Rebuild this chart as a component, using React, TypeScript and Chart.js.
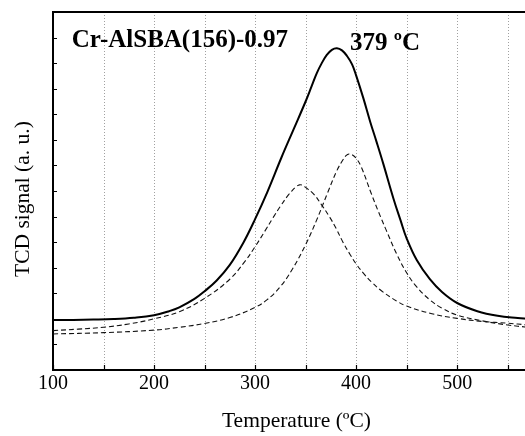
import React, { useEffect, useRef } from 'react';
import { Chart, registerables } from 'chart.js';

Chart.register(...registerables);

// ---- Data ----
const totalTemps = [100, 120, 140, 160, 180, 200, 215, 225, 240, 250, 262, 275, 288, 300, 312, 326, 338, 350, 356, 361, 366, 371, 376, 381, 386, 391, 396, 400, 407, 414, 420, 427, 437, 444, 450, 460, 473, 485, 500, 520, 540, 560, 570];
const totalSignal = [1.96, 1.96, 1.97, 1.99, 2.04, 2.14, 2.3, 2.45, 2.78, 3.08, 3.5, 4.11, 4.95, 5.9, 6.95, 8.3, 9.4, 10.5, 11.1, 11.6, 12.0, 12.32, 12.52, 12.58, 12.5, 12.28, 11.95, 11.52, 10.65, 9.7, 8.95, 8.05, 6.7, 5.85, 5.15, 4.3, 3.55, 3.05, 2.62, 2.3, 2.12, 2.03, 2.0];

const peakATemps = [100, 125, 150, 175, 200, 225, 250, 275, 290, 300, 310, 318, 325, 333, 338, 341, 344, 347, 350, 358, 366, 374, 380, 387, 394, 400, 408, 415, 425, 440, 450, 475, 500, 525, 550, 570];
const peakASignal = [1.54, 1.6, 1.67, 1.8, 2.0, 2.28, 2.8, 3.55, 4.25, 4.82, 5.45, 5.97, 6.4, 6.85, 7.07, 7.18, 7.24, 7.22, 7.14, 6.88, 6.45, 5.97, 5.55, 5.0, 4.52, 4.15, 3.75, 3.45, 3.1, 2.7, 2.5, 2.2, 2.02, 1.9, 1.83, 1.76];

const peakBTemps = [100, 150, 200, 225, 250, 275, 300, 312, 325, 337, 350, 361, 372, 381, 387, 390, 393, 396, 400, 405, 415, 422, 430, 440, 450, 460, 473, 485, 500, 525, 550, 570];
const peakBSignal = [1.41, 1.46, 1.56, 1.67, 1.82, 2.05, 2.45, 2.75, 3.26, 3.95, 4.9, 5.87, 6.95, 7.8, 8.22, 8.38, 8.45, 8.42, 8.28, 7.95, 6.9, 6.2, 5.45, 4.55, 3.8, 3.25, 2.74, 2.42, 2.15, 1.92, 1.76, 1.67];

const xMin = 100;
const xMax = 582;
const xStep = 50;
const yMin = 0;
const yMax = 14;

const xTitle = 'Temperature (ºC)';
const yTitle = 'TCD signal (a. u.)\u00A0\u00A0\u00A0';
const sampleLabel = 'Cr-AlSBA(156)-0.97';
const sampleLabelPos = { x: 118.5, y: 12.64 };
const peakLabel = '379 ºC';
const peakLabelPos = { x: 394, y: 12.51 };

const FONT = '"Liberation Serif", "Times New Roman", serif';

const toPoints = (xs: number[], ys: number[]) => xs.map((x, i) => ({ x, y: ys[i] }));

const framePlugin = {
  id: 'frameAndGrid',
  beforeDatasetsDraw(chart: any) {
    const { ctx, chartArea: a, scales } = chart;
    ctx.save();
    ctx.strokeStyle = '#a0a0a0';
    ctx.lineWidth = 1;
    ctx.setLineDash([1, 2]);
    scales.x.ticks.forEach((t: any) => {
      if (t.value <= xMin) return;
      const px = Math.round(scales.x.getPixelForValue(t.value)) + 0.5;
      ctx.beginPath();
      ctx.moveTo(px, a.top);
      ctx.lineTo(px, a.bottom);
      ctx.stroke();
    });
    ctx.restore();
  },
  afterDraw(chart: any) {
    const { ctx, chartArea: a, scales } = chart;
    ctx.save();
    ctx.setLineDash([]);
    ctx.strokeStyle = '#000';
    ctx.lineWidth = 2;
    ctx.beginPath();
    ctx.moveTo(a.left - 1, a.top);
    ctx.lineTo(a.right, a.top);
    ctx.stroke();
    ctx.lineWidth = 1.2;
    ctx.beginPath();
    scales.x.ticks.forEach((t: any) => {
      const px = Math.round(scales.x.getPixelForValue(t.value)) + 0.5;
      ctx.moveTo(px, a.bottom);
      ctx.lineTo(px, a.bottom - 5);
    });
    scales.y.ticks.forEach((t: any) => {
      const py = Math.round(scales.y.getPixelForValue(t.value)) + 0.5;
      ctx.moveTo(a.left, py);
      ctx.lineTo(a.left + 4, py);
    });
    ctx.stroke();

    ctx.fillStyle = '#000';
    ctx.font = `bold 25px ${FONT}`;
    ctx.textAlign = 'left';
    ctx.textBaseline = 'alphabetic';
    ctx.fillText(sampleLabel, scales.x.getPixelForValue(sampleLabelPos.x), scales.y.getPixelForValue(sampleLabelPos.y));
    ctx.fillText(peakLabel, scales.x.getPixelForValue(peakLabelPos.x), scales.y.getPixelForValue(peakLabelPos.y));
    ctx.restore();
  },
};

export default function App() {
  const canvasRef = useRef<HTMLCanvasElement | null>(null);

  useEffect(() => {
    if (!canvasRef.current) return;
    const lineBase = {
      pointRadius: 0,
      tension: 0.4,
      fill: false,
    };
    const chart = new Chart(canvasRef.current, {
      type: 'line',
      data: {
        datasets: [
          {
            ...lineBase,
            label: 'Total',
            data: toPoints(totalTemps, totalSignal),
            borderColor: '#000',
            borderWidth: 2,
          },
          {
            ...lineBase,
            label: 'Peak 1',
            data: toPoints(peakATemps, peakASignal),
            borderColor: '#111',
            borderWidth: 1.1,
            borderDash: [5, 3],
          },
          {
            ...lineBase,
            label: 'Peak 2',
            data: toPoints(peakBTemps, peakBSignal),
            borderColor: '#111',
            borderWidth: 1.1,
            borderDash: [5, 3],
          },
        ],
      },
      options: {
        responsive: false,
        animation: false,
        devicePixelRatio: 1,
        layout: { padding: { top: 12, left: 0, right: 0, bottom: 0 } },
        plugins: {
          legend: { display: false },
          tooltip: { enabled: false },
        },
        scales: {
          x: {
            type: 'linear',
            min: xMin,
            max: xMax,
            afterFit: (scale: any) => {
              scale.height = 66;
            },
            grid: { display: false, drawTicks: false },
            border: { display: true, color: '#000', width: 2 },
            ticks: {
              stepSize: xStep,
              includeBounds: false,
              autoSkip: false,
              maxRotation: 0,
              padding: 2,
              color: '#000',
              font: { family: FONT, size: 20 },
              callback: (v: any) => (Number(v) % 100 === 0 ? String(v) : ''),
            },
            title: {
              display: true,
              text: xTitle,
              color: '#000',
              font: { family: FONT, size: 21.5 },
              padding: { top: 0, bottom: 2 },
            },
          },
          y: {
            type: 'linear',
            min: yMin,
            max: yMax,
            afterFit: (scale: any) => {
              scale.width = 53;
            },
            grid: { display: false, drawTicks: false },
            border: { display: true, color: '#000', width: 2 },
            ticks: { display: false, stepSize: 1 },
            title: {
              display: true,
              text: yTitle,
              color: '#000',
              font: { family: FONT, size: 21.5 },
              padding: { top: 10, bottom: 0 },
            },
          },
        },
      },
      plugins: [framePlugin],
    });
    return () => chart.destroy();
  }, []);

  return (
    <div
      style={{
        position: 'fixed',
        left: 0,
        top: 0,
        width: 525,
        height: 436,
        overflow: 'hidden',
        background: '#fff',
      }}
    >
      <canvas ref={canvasRef} width={540} height={436} style={{ display: 'block' }} />
    </div>
  );
}
